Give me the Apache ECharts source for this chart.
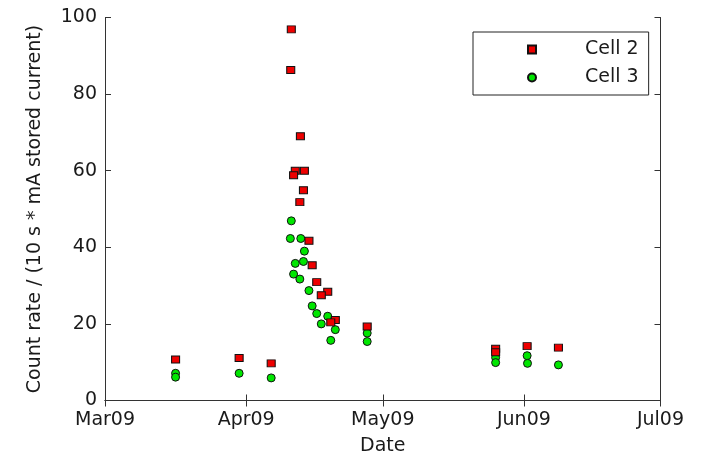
<!DOCTYPE html>
<html>
<head>
<meta charset="utf-8">
<script src="https://cdn.jsdelivr.net/npm/echarts@6/dist/echarts.min.js"></script>
<style>html,body{margin:0;padding:0;background:#fff}#c{width:703px;height:462px}</style>
</head>
<body>
<div id="c"></div>
<script>
// ---- data ----
const tickDates = ['2009-03-01', '2009-04-01', '2009-05-01', '2009-06-01', '2009-07-01'];
const tickLabels = ['Mar09', 'Apr09', 'May09', 'Jun09', 'Jul09'];
const yTicks = [0, 20, 40, 60, 80, 100];

const cell2Dates = ['2009-03-16 12', '2009-03-30 11', '2009-04-06 12', '2009-04-10 22', '2009-04-10 19',
  '2009-04-12 22', '2009-04-11 19', '2009-04-11 10', '2009-04-13 19', '2009-04-13 14', '2009-04-12 19',
  '2009-04-14 19', '2009-04-15 12', '2009-04-16 12', '2009-04-18 22', '2009-04-17 12', '2009-04-20 14',
  '2009-04-19 14', '2009-04-27 14', '2009-05-25 19', '2009-05-25 19', '2009-06-01 17', '2009-06-08 14'];
const cell2Values = [10.7, 11.1, 9.7, 96.9, 86.3,
  69.0, 60.0, 58.8, 60.0, 54.9, 51.8,
  41.7, 35.3, 30.9, 28.4, 27.5, 21.0,
  20.4, 19.3, 13.5, 12.6, 14.2, 13.8];

const cell3Dates = ['2009-03-16 12', '2009-03-16 12', '2009-03-30 11', '2009-04-06 12', '2009-04-10 22',
  '2009-04-10 17', '2009-04-13 00', '2009-04-13 19', '2009-04-11 19', '2009-04-13 14', '2009-04-11 10',
  '2009-04-12 19', '2009-04-14 19', '2009-04-15 12', '2009-04-16 12', '2009-04-18 22', '2009-04-17 12',
  '2009-04-20 14', '2009-04-19 14', '2009-04-27 14', '2009-04-27 14', '2009-05-25 19', '2009-05-25 19',
  '2009-06-01 17', '2009-06-01 19', '2009-06-08 14'];
const cell3Values = [7.1, 6.1, 7.1, 5.9, 46.9,
  42.3, 42.3, 39.0, 35.8, 36.3, 33.0,
  31.7, 28.7, 24.7, 22.7, 22.0, 20.0,
  18.5, 15.7, 17.6, 15.4, 11.2, 9.9,
  11.7, 9.7, 9.3];

// ---- helpers ----
function t(s) {
  const parts = s.split(' ');
  const d = parts[0].split('-').map(Number);
  const h = parts[1] ? Number(parts[1]) : 0;
  return Date.UTC(d[0], d[1] - 1, d[2], h);
}
const tickTimes = tickDates.map(t);
const labelOf = {};
tickTimes.forEach((v, i) => { labelOf[v] = tickLabels[i]; });
const pair = (ds, vs) => ds.map((d, i) => [t(d), vs[i]]);

const FONT = 'DejaVu Sans';
const TXT = '#1a1a1a';
const AX = '#333';

const chart = echarts.init(document.getElementById('c'), null, { renderer: 'canvas' });
chart.setOption({
  animation: false,
  backgroundColor: '#fff',
  grid: { left: 105, top: 17.5, right: 42.5, bottom: 61.5, containLabel: false },
  legend: {
    data: ['Cell 2', 'Cell 3'],
    orient: 'vertical',
    left: 473, top: 32,
    itemWidth: 8, itemHeight: 8, itemGap: 9,
    borderColor: '#222', borderWidth: 1,
    padding: [8, 10, 8, 54],
    backgroundColor: '#fff',
    textStyle: { fontSize: 19, fontFamily: FONT, color: TXT, padding: [0, 0, 0, 44] },
    selectedMode: false
  },
  xAxis: [{
    type: 'value',
    min: tickTimes[0], max: tickTimes[tickTimes.length - 1],
    name: 'Date', nameLocation: 'middle', nameGap: 36,
    nameTextStyle: { fontSize: 19, fontFamily: FONT, color: TXT },
    axisLine: { show: true, lineStyle: { color: AX, width: 1 } },
    axisTick: { show: true, inside: true, length: 6, customValues: tickTimes, lineStyle: { color: AX } },
    axisLabel: { customValues: tickTimes, fontSize: 19, fontFamily: FONT, color: TXT, margin: 10,
      formatter: v => labelOf[v] || '' },
    splitLine: { show: false }
  }, {
    type: 'value', position: 'top',
    min: tickTimes[0], max: tickTimes[tickTimes.length - 1],
    axisLine: { show: true, lineStyle: { color: AX, width: 1 } },
    axisTick: { show: true, inside: true, length: 6, customValues: tickTimes, lineStyle: { color: AX } },
    axisLabel: { show: false },
    splitLine: { show: false }
  }],
  yAxis: [{
    type: 'value', min: 0, max: 100, interval: 20,
    name: 'Count rate / (10 s * mA stored current)', nameLocation: 'middle', nameGap: 60,
    nameTextStyle: { fontSize: 19, fontFamily: FONT, color: TXT },
    axisLine: { show: true, lineStyle: { color: AX, width: 1 } },
    axisTick: { show: true, inside: true, length: 6, lineStyle: { color: AX } },
    axisLabel: { fontSize: 19, fontFamily: FONT, color: TXT, margin: 8 },
    splitLine: { show: false }
  }, {
    type: 'value', min: 0, max: 100, interval: 20, position: 'right',
    axisLine: { show: true, lineStyle: { color: AX, width: 1 } },
    axisTick: { show: true, inside: true, length: 6, lineStyle: { color: AX } },
    axisLabel: { show: false },
    splitLine: { show: false }
  }],
  series: [{
    name: 'Cell 3', type: 'scatter', z: 2,
    symbol: 'circle', symbolSize: 8,
    itemStyle: { color: '#00e600', borderColor: '#111', borderWidth: 1, opacity: 1 },
    data: pair(cell3Dates, cell3Values)
  }, {
    name: 'Cell 2', type: 'scatter', z: 3,
    symbol: 'rect', symbolSize: [8, 7],
    itemStyle: { color: '#ee0000', borderColor: '#111', borderWidth: 1, opacity: 1 },
    data: pair(cell2Dates, cell2Values)
  }]
});
</script>
</body>
</html>
